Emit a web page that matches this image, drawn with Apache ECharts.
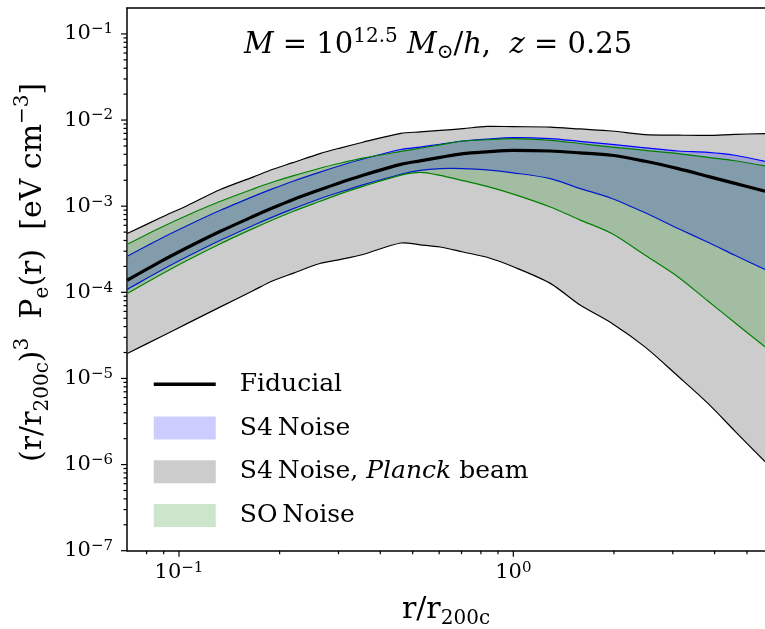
<!DOCTYPE html>
<html><head><meta charset="utf-8">
<script src="https://cdn.jsdelivr.net/npm/echarts@6/dist/echarts.min.js"></script>
<style>html,body{margin:0;padding:0;background:#fff}#c{width:765px;height:629px}</style>
</head><body><div id="c"></div>
<script>
// r / r200c sample positions
const r = [0.07, 0.088, 0.106, 0.133, 0.167, 0.191, 0.219, 0.264, 0.303, 0.355, 0.461, 0.526, 0.604, 0.707, 0.834, 1.0, 1.29, 1.58, 1.97, 2.48, 3.11, 3.82, 4.6, 5.66];
const fiducial = [1.38e-4, 2.27e-4, 3.31e-4, 5.11e-4, 7.63e-4, 9.58e-4, 1.19e-3, 1.55e-3, 1.87e-3, 2.29e-3, 3.06e-3, 3.36e-3, 3.69e-3, 4.08e-3, 4.28e-3, 4.45e-3, 4.37e-3, 4.16e-3, 3.90e-3, 3.32e-3, 2.73e-3, 2.22e-3, 1.84e-3, 1.49e-3];
const s4Upper = [2.62e-4, 4.19e-4, 5.97e-4, 8.96e-4, 1.30e-3, 1.60e-3, 1.95e-3, 2.49e-3, 2.95e-3, 3.53e-3, 4.55e-3, 4.85e-3, 5.24e-3, 5.71e-3, 6.02e-3, 6.25e-3, 6.08e-3, 5.66e-3, 5.23e-3, 4.76e-3, 4.37e-3, 4.22e-3, 3.90e-3, 3.32e-3];
const s4Lower = [1.08e-4, 1.78e-4, 2.60e-4, 4.02e-4, 6.00e-4, 7.51e-4, 9.30e-4, 1.22e-3, 1.46e-3, 1.77e-3, 2.35e-3, 2.61e-3, 2.73e-3, 2.73e-3, 2.64e-3, 2.44e-3, 2.09e-3, 1.61e-3, 1.23e-3, 8.38e-4, 5.50e-4, 3.81e-4, 2.69e-4, 1.84e-4];
const planckUpper = [4.81e-4, 7.33e-4, 1.02e-3, 1.56e-3, 2.19e-3, 2.68e-3, 3.20e-3, 4.08e-3, 4.73e-3, 5.53e-3, 7.00e-3, 7.28e-3, 7.57e-3, 7.95e-3, 8.45e-3, 8.38e-3, 8.30e-3, 7.88e-3, 7.46e-3, 6.77e-3, 6.68e-3, 6.64e-3, 6.83e-3, 6.95e-3];
const planckLower = [1.95e-5, 3.03e-5, 4.36e-5, 6.77e-5, 1.05e-4, 1.36e-4, 1.66e-4, 2.16e-4, 2.40e-4, 2.75e-4, 3.74e-4, 3.56e-4, 3.36e-4, 2.94e-4, 2.55e-4, 1.98e-4, 1.27e-4, 7.16e-5, 4.38e-5, 2.31e-5, 1.06e-5, 5.13e-6, 2.45e-6, 1.08e-6];
const soUpper = [3.61e-4, 5.63e-4, 7.86e-4, 1.14e-3, 1.59e-3, 1.91e-3, 2.25e-3, 2.76e-3, 3.15e-3, 3.61e-3, 4.32e-3, 4.71e-3, 5.16e-3, 5.71e-3, 5.91e-3, 6.08e-3, 5.81e-3, 5.34e-3, 4.86e-3, 4.45e-3, 4.08e-3, 3.69e-3, 3.37e-3, 2.93e-3];
const soLower = [9.68e-5, 1.60e-4, 2.36e-4, 3.67e-4, 5.53e-4, 6.97e-4, 8.68e-4, 1.14e-3, 1.39e-3, 1.70e-3, 2.29e-3, 2.47e-3, 2.28e-3, 1.98e-3, 1.70e-3, 1.38e-3, 9.79e-4, 6.94e-4, 4.81e-4, 2.69e-4, 1.51e-4, 7.93e-5, 4.43e-5, 2.33e-5];

// axes and tick values
const X_MIN = 0.0699, X_MAX = 5.66, Y_MIN = 1e-7, Y_MAX = 0.2;
const xMajorTicks = [0.1, 1];
const xMinorTicks = [0.08, 0.09, 0.2, 0.3, 0.4, 0.5, 0.6, 0.7, 0.8, 0.9, 2, 3, 4, 5];
const yMajorTicks = [1e-7, 1e-6, 1e-5, 1e-4, 1e-3, 1e-2, 1e-1];
const minorMultipliers = [2, 3, 4, 5, 6, 7, 8, 9];
const FONT = "'DejaVu Serif', serif";
const SMOOTH = 0.3;

function pts(arr) { return r.map((x, i) => [x, arr[i]]); }

// bezier smoothing (same rule for fill and edges so they match)
function bezierSegs(p) {
  const n = p.length, cps = [];
  for (let i = 0; i < n; i++) {
    if (i === 0 || i === n - 1) { cps.push([p[i][0], p[i][1]]); continue; }
    const prev = p[i - 1], next = p[i + 1], pt = p[i];
    const vx = (next[0] - prev[0]) * SMOOTH, vy = (next[1] - prev[1]) * SMOOTH;
    let d0 = Math.hypot(pt[0] - prev[0], pt[1] - prev[1]);
    let d1 = Math.hypot(pt[0] - next[0], pt[1] - next[1]);
    const s = d0 + d1; if (s) { d0 /= s; d1 /= s; }
    cps.push([pt[0] - vx * d0, pt[1] - vy * d0]);
    cps.push([pt[0] + vx * d1, pt[1] + vy * d1]);
  }
  let d = '';
  for (let i = 0; i < n - 1; i++) {
    const a = cps[2 * i], b = cps[2 * i + 1], e = p[i + 1];
    d += ' C' + a[0] + ' ' + a[1] + ' ' + b[0] + ' ' + b[1] + ' ' + e[0] + ' ' + e[1];
  }
  return d;
}

function band(name, upper, lower, fill, stroke, w) {
  return {
    type: 'custom', name: name, silent: true, clip: true,
    itemStyle: { color: fill },
    data: [[r[0], upper[0]]],
    renderItem: function (params, api) {
      const up = r.map((x, i) => api.coord([x, upper[i]]));
      const lo = r.map((x, i) => api.coord([x, lower[i]])).reverse();
      const upD = 'M' + up[0][0] + ' ' + up[0][1] + bezierSegs(up);
      const loD = 'M' + lo[0][0] + ' ' + lo[0][1] + bezierSegs(lo);
      const fillD = upD + ' L' + lo[0][0] + ' ' + lo[0][1] + bezierSegs(lo) + ' Z';
      return {
        type: 'group', children: [
          { type: 'path', shape: { pathData: fillD }, style: { fill: fill, stroke: null } },
          { type: 'path', shape: { pathData: upD }, style: { fill: null, stroke: stroke, lineWidth: w } },
          { type: 'path', shape: { pathData: loD }, style: { fill: null, stroke: stroke, lineWidth: w } }
        ]
      };
    }
  };
}

function powLabel(v) {
  const e = Math.round(Math.log10(v));
  if (Math.abs(v / Math.pow(10, e) - 1) > 1e-3) return '';
  return '{b|10}{s|' + (e < 0 ? '\u2212' + (-e) : e) + '}';
}
const tickRich = {
  b: { fontFamily: FONT, fontSize: 21, lineHeight: 24, color: '#000' },
  s: { fontFamily: FONT, fontSize: 15, lineHeight: 14, verticalAlign: 'top', color: '#000' }
};

const chart = echarts.init(document.getElementById('c'), null, { renderer: 'canvas' });
chart.setOption({
  animation: false,
  backgroundColor: '#fff',
  grid: { left: 127, right: 0, top: 8, bottom: 78.3, containLabel: false, outerBoundsMode: 'none' },
  xAxis: [{
    type: 'log', logBase: 10, min: X_MIN, max: X_MAX,
    axisLine: { show: true, onZero: false, lineStyle: { color: '#000', width: 1.5 } },
    axisTick: { show: false }, splitLine: { show: false }, minorTick: { show: false },
    axisLabel: { formatter: powLabel, rich: tickRich, margin: 10, showMinLabel: false, showMaxLabel: false },
    name: 'r/r{sub|200c}', nameLocation: 'middle', nameGap: 42,
    nameTextStyle: {
      fontFamily: FONT, fontSize: 30, color: '#000', lineHeight: 36,
      rich: { sub: { fontFamily: FONT, fontSize: 20, lineHeight: 16, verticalAlign: 'bottom', color: '#000' } }
    }
  }, {
    type: 'log', logBase: 10, min: X_MIN, max: X_MAX, position: 'top',
    axisLine: { show: true, onZero: false, lineStyle: { color: '#000', width: 1.5 } },
    axisTick: { show: false }, axisLabel: { show: false }, splitLine: { show: false }
  }],
  yAxis: [{
    type: 'log', logBase: 10, min: Y_MIN, max: Y_MAX,
    axisLine: { show: true, onZero: false, lineStyle: { color: '#000', width: 1.5 } },
    axisTick: { show: false }, splitLine: { show: false }, minorTick: { show: false },
    axisLabel: { formatter: powLabel, rich: tickRich, margin: 14, showMinLabel: true, showMaxLabel: false },
    name: '(r/r{sub|200c}){sup|3}  P{sub|e}(r)  [eV cm{sup|\u22123}]',
    nameLocation: 'middle', nameRotate: 90, nameGap: 72,
    nameTextStyle: {
      fontFamily: FONT, fontSize: 30, color: '#000', lineHeight: 40, padding: [0, 0, 0, 14],
      rich: {
        sub: { fontFamily: FONT, fontSize: 20, lineHeight: 18, verticalAlign: 'bottom', color: '#000' },
        sup: { fontFamily: FONT, fontSize: 20, lineHeight: 20, verticalAlign: 'top', color: '#000' }
      }
    }
  }],
  legend: {
    orient: 'vertical', left: 152, top: 371.8, padding: 0,
    itemWidth: 62, itemHeight: 23, itemGap: 18.7, selectedMode: false,
    data: [
      { name: 'Fiducial', itemStyle: { opacity: 0, color: 'transparent', borderWidth: 0 }, lineStyle: { width: 3.5, color: '#000' } },
      { name: 'S4 Noise', icon: 'rect', itemStyle: { color: 'rgba(0,0,255,0.2)', borderWidth: 0 } },
      { name: 'S4 Noise, Planck beam', icon: 'rect', itemStyle: { color: 'rgba(128,128,128,0.4)', borderWidth: 0 } },
      { name: 'SO Noise', icon: 'rect', itemStyle: { color: 'rgba(0,128,0,0.2)', borderWidth: 0 } }
    ],
    formatter: function (n) {
      if (n === 'S4 Noise, Planck beam') return '{n|S4\u2009Noise, }{i|Planck}{n| beam}';
      return '{n|' + n.replace('S4 ', 'S4\u2009').replace('SO ', 'SO\u2009') + '}';
    },
    textStyle: {
      fontFamily: FONT, fontSize: 25, color: '#000', padding: [0, 0, 0, 19],
      rich: {
        n: { fontFamily: FONT, fontSize: 25, color: '#000', lineHeight: 23 },
        i: { fontFamily: FONT, fontSize: 25, fontStyle: 'italic', color: '#000', lineHeight: 23 }
      }
    }
  },
  series: [
    band('S4 Noise, Planck beam', planckUpper, planckLower, 'rgba(128,128,128,0.4)', '#000', 1.2),
    band('S4 Noise', s4Upper, s4Lower, 'rgba(0,0,255,0.2)', '#0000ff', 1.2),
    band('SO Noise', soUpper, soLower, 'rgba(0,128,0,0.2)', '#008000', 1.2),
    {
      type: 'line', name: 'Fiducial', data: pts(fiducial), symbol: 'none', silent: true, smooth: 0.3,
      lineStyle: { color: '#000', width: 3.2 }, itemStyle: { color: '#000' }, z: 4
    }
  ]
});

// ticks: positions taken from the chart's own log scales, drawn as thin rects
const ticks = [];
function px(x, y) { return chart.convertToPixel({ xAxisIndex: 0, yAxisIndex: 0 }, [x, y]); }
function xTick(v, len) {
  const p = px(v, Y_MIN);
  ticks.push({ type: 'rect', silent: true, z: 10, shape: { x: p[0] - 0.6, y: p[1], width: 1.2, height: len }, style: { fill: '#000' } });
}
function yTick(v, len) {
  const p = px(X_MIN, v);
  ticks.push({ type: 'rect', silent: true, z: 10, shape: { x: p[0] - len, y: p[1] - 0.6, width: len, height: 1.2 }, style: { fill: '#000' } });
}
xMajorTicks.forEach(v => xTick(v, 6));
xMinorTicks.forEach(v => xTick(v, 3.5));
yMajorTicks.forEach(function (d) {
  yTick(d, 6);
  minorMultipliers.forEach(function (m) { if (d * m < Y_MAX * 0.999) yTick(d * m, 3.5); });
});

chart.setOption({
  graphic: ticks.concat([{
    type: 'text', x: 438, y: 45, silent: true,
    style: {
      text: '{i|M}{n| = 10}{sup|12.5}{n| }{i|M}{sub|\u2299}{n|/}{i|h}{n|,  }{i|z}{n| = 0.25}',
      align: 'center', verticalAlign: 'middle',
      fontFamily: FONT, fontSize: 29, fill: '#000',
      rich: {
        n: { fontFamily: FONT, fontSize: 29, lineHeight: 36, fill: '#000' },
        i: { fontFamily: FONT, fontSize: 29, fontStyle: 'italic', lineHeight: 36, fill: '#000' },
        sup: { fontFamily: FONT, fontSize: 20, lineHeight: 16, verticalAlign: 'top', fill: '#000' },
        sub: { fontFamily: FONT, fontSize: 20, lineHeight: 16, verticalAlign: 'bottom', fill: '#000' }
      }
    }
  }])
});
</script>
</body></html>
